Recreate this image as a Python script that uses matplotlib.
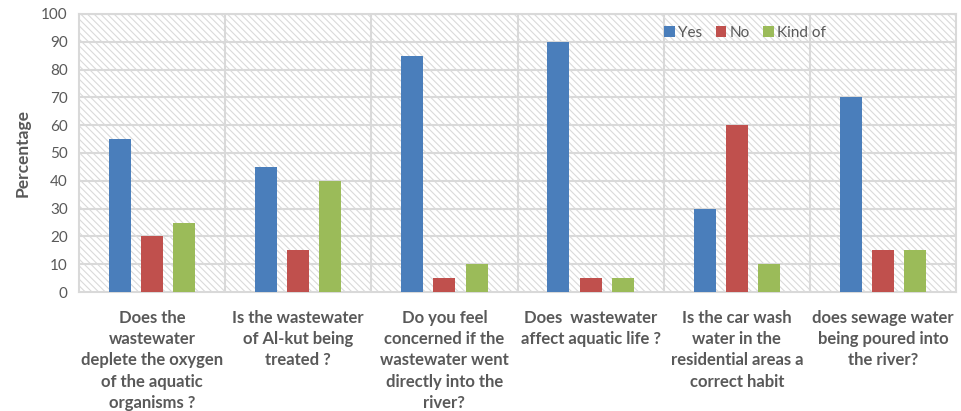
import numpy as np
import matplotlib.pyplot as plt
from matplotlib.patches import Rectangle

plt.rcParams["font.family"] = ["Lato", "DejaVu Sans"]
plt.rcParams["hatch.linewidth"] = 0.8

preguntas = [
    "Does the\nwastewater\ndeplete the oxygen\nof the aquatic\norganisms ?",
    "Is the wastewater\nof Al-kut being\ntreated ?",
    "Do you feel\nconcerned if the\nwastewater went\ndirectly into the\nriver?",
    "Does  wastewater\naffect aquatic life ?",
    "Is the car wash\nwater in the\nresidential areas a\ncorrect habit",
    "does sewage water\nbeing poured into\nthe river?",
]
yes = [55, 45, 85, 90, 30, 70]
no = [20, 15, 5, 5, 60, 15]
kind_of = [25, 40, 10, 5, 10, 15]

series = [("Yes", yes, "#4a7ebb"), ("No", no, "#c0504d"), ("Kind of", kind_of, "#9bbb59")]

gris = "#d9d9d9"
texto = "#595959"

fig = plt.figure(figsize=(9.62, 4.11), dpi=100)
ax = fig.add_axes([0.0821, 0.2895, 0.9117, 0.6765])

# fondo rayado
ax.add_patch(Rectangle((0, 0), 1, 1, transform=ax.transAxes, facecolor="white",
                       edgecolor="#dadada", linewidth=0, hatch="\\\\\\\\\\", zorder=0))

x = np.arange(len(preguntas))
ancho = 0.15
paso = 0.22
for i, (nombre, vals, color) in enumerate(series):
    ax.bar(x + (i - 1) * paso, vals, width=ancho, color=color, label=nombre, zorder=3)

ax.set_xlim(-0.5, len(preguntas) - 0.5)
ax.set_ylim(0, 100)
ax.set_yticks(np.arange(0, 101, 10))

for y in np.arange(10, 101, 10):
    ax.axhline(y, color=gris, lw=1.5, zorder=1)
for b in np.arange(0.5, len(preguntas) - 0.5, 1):
    ax.axvline(b, color=gris, lw=1.5, zorder=1)

for s in ax.spines.values():
    s.set_color(gris)
    s.set_linewidth(1.5)

ax.set_xticks(x)
ax.set_xticklabels(preguntas, fontsize=12, fontweight="bold", color=texto,
                   linespacing=1.4, va="top")
ax.tick_params(axis="x", length=0, pad=13)
ax.tick_params(axis="y", length=0, pad=8, labelsize=11, labelcolor=texto)
ax.set_ylabel("Percentage", fontsize=12.5, fontweight="bold", color=texto, labelpad=8)

ax.legend(loc="upper left", bbox_to_anchor=(0.66, 0.98), ncol=3, frameon=False,
          fontsize=11, labelcolor=texto, handlelength=0.7, handleheight=0.7,
          handletextpad=0.2, columnspacing=0.9, borderaxespad=0)

fig.savefig("out.png", dpi=100)
